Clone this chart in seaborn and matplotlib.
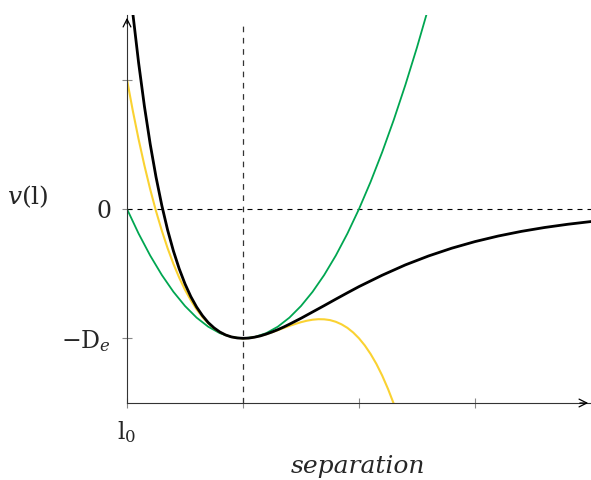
import numpy as np
import pandas as pd
import matplotlib.pyplot as plt
import seaborn as sns

# Morse potential (black)
morse_x = [0.0, 0.03, 0.05, 0.1, 0.15, 0.2, 0.25, 0.3, 0.35, 0.4, 0.45, 0.5, 0.55,
           0.6, 0.65, 0.7, 0.75, 0.8, 0.85, 0.9, 0.95, 1.0, 1.05, 1.1, 1.15, 1.2,
           1.25, 1.3, 1.35, 1.4, 1.5, 1.6, 1.7, 1.8, 1.9, 2.0, 2.2, 2.4, 2.6, 2.8,
           3.0, 3.2, 3.4, 3.6, 3.8, 4.0]
morse_v = [1.952, 1.683, 1.514, 1.131, 0.795, 0.502, 0.248, 0.028, -0.162, -0.324,
           -0.462, -0.579, -0.677, -0.758, -0.824, -0.878, -0.919, -0.951, -0.974,
           -0.989, -0.997, -1.0, -0.998, -0.991, -0.981, -0.967, -0.951, -0.933,
           -0.913, -0.891, -0.845, -0.796, -0.747, -0.697, -0.648, -0.600, -0.512,
           -0.432, -0.363, -0.303, -0.252, -0.209, -0.173, -0.143, -0.118, -0.097]

# harmonic approximation (green)
harm_x = [0.0, 0.1, 0.2, 0.3, 0.4, 0.5, 0.6, 0.7, 0.8, 0.9, 1.0, 1.1, 1.2, 1.3,
          1.4, 1.5, 1.6, 1.7, 1.8, 1.9, 2.0, 2.1, 2.2, 2.3, 2.4, 2.5, 2.6]
harm_v = [0.0, -0.19, -0.36, -0.51, -0.64, -0.75, -0.84, -0.91, -0.96, -0.99, -1.0,
          -0.99, -0.96, -0.91, -0.84, -0.75, -0.64, -0.51, -0.36, -0.19, 0.0, 0.21,
          0.44, 0.69, 0.96, 1.25, 1.56]

# cubic approximation (yellow)
cubic_x = [0.0, 0.05, 0.1, 0.15, 0.2, 0.25, 0.3, 0.35, 0.4, 0.45, 0.5, 0.55, 0.6,
           0.65, 0.7, 0.75, 0.8, 0.85, 0.9, 0.95, 1.0, 1.05, 1.1, 1.15, 1.2, 1.25,
           1.3, 1.35, 1.4, 1.45, 1.5, 1.55, 1.6, 1.65, 1.7, 1.75, 1.8, 1.85, 1.9,
           1.95, 2.0, 2.05, 2.1, 2.15, 2.2, 2.25, 2.3, 2.35, 2.4]
cubic_v = [1.0, 0.760, 0.539, 0.337, 0.152, -0.016, -0.167, -0.303, -0.424, -0.531,
           -0.625, -0.706, -0.776, -0.835, -0.883, -0.922, -0.952, -0.974, -0.989,
           -0.997, -1.0, -0.998, -0.991, -0.981, -0.968, -0.953, -0.937, -0.920,
           -0.904, -0.889, -0.875, -0.864, -0.856, -0.852, -0.853, -0.859, -0.872,
           -0.892, -0.919, -0.955, -1.0, -1.055, -1.121, -1.198, -1.288, -1.391,
           -1.507, -1.638, -1.784]

x_ticks = [0, 1, 2, 3]
x_ticklabels = [r'$\mathrm{l}_0$', '', '', '']
y_ticks = [-1, 0, 1]
y_ticklabels = [r'$-\mathrm{D}_e$', '0', '']
eq_x = 1.0

sns.set_style("white")
plt.rcParams['font.family'] = ['DejaVu Serif', 'DejaVu Sans']
plt.rcParams['mathtext.fontset'] = 'dejavuserif'

fig = plt.figure(figsize=(5.91, 4.80), dpi=100)
ax = fig.add_axes([127 / 591, 77 / 480, 464 / 591, 388 / 480])

ax.axhline(0, color='black', lw=0.8, ls=(0, (4.5, 4.5)), zorder=1)
ax.axvline(eq_x, ymax=0.985, color='#333333', lw=0.9, ls=(0, (4.5, 4.5)), zorder=1)

sns.lineplot(data=pd.DataFrame({'x': harm_x, 'v': harm_v}), x='x', y='v',
             color='#00a651', lw=1.3, ax=ax, sort=False)
sns.lineplot(data=pd.DataFrame({'x': cubic_x, 'v': cubic_v}), x='x', y='v',
             color='#fad232', lw=1.5, ax=ax, sort=False)
sns.lineplot(data=pd.DataFrame({'x': morse_x, 'v': morse_v}), x='x', y='v',
             color='black', lw=2.0, ax=ax, sort=False)
for line in ax.get_lines():
    line.set_solid_joinstyle('round')

ax.set_xlim(0, 4)
ax.set_ylim(-1.5, 1.5)
ax.set_xlabel('')
ax.set_ylabel('')

for s in ['top', 'right']:
    ax.spines[s].set_visible(False)
for s in ['left', 'bottom']:
    ax.spines[s].set_color('#333333')
    ax.spines[s].set_linewidth(0.8)

ax.set_xticks(x_ticks)
ax.set_xticklabels(x_ticklabels, fontsize=17)
ax.set_yticks(y_ticks)
ax.set_yticklabels(y_ticklabels, fontsize=17)
ax.tick_params(axis='both', bottom=True, left=True, direction='inout',
               length=7, width=0.8, color='#888888', pad=8)

# axis arrows
ax.annotate('', xy=(1.0, 0), xytext=(0.97, 0), xycoords='axes fraction',
            arrowprops=dict(arrowstyle='->', color='black', lw=0.9,
                            mutation_scale=14))
ax.annotate('', xy=(0, 1.0), xytext=(0, 0.97), xycoords='axes fraction',
            arrowprops=dict(arrowstyle='->', color='black', lw=0.9,
                            mutation_scale=14))

fig.text(28 / 591, 1 - 197 / 480, r'$v(\mathrm{l})$', fontsize=18,
         ha='center', va='center')
fig.text(358 / 591, 1 - 467 / 480, 'separation', fontsize=18, style='italic',
         ha='center', va='center')

fig.savefig('out.png', dpi=100)
